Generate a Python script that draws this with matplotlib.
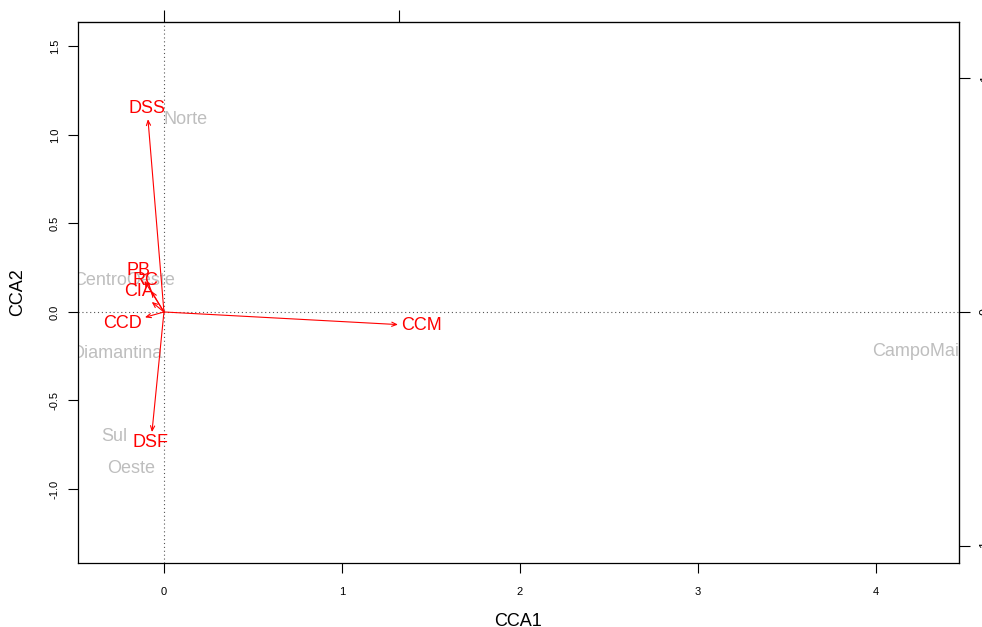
import numpy as np
import matplotlib
matplotlib.use("Agg")
import matplotlib.pyplot as plt

# site scores (CCA1, CCA2)
sites = ["Norte", "CentroOeste", "Diamantina", "Sul", "Oeste", "CampoMaior"]
site_x = [0.124, -0.225, -0.262, -0.280, -0.185, 4.27]
site_y = [1.09, 0.175, -0.237, -0.705, -0.885, -0.226]

# biplot scores of environmental variables
env = ["DSS", "DSF", "CCM", "CCD", "CIA", "RC", "PB"]
env_x = [-0.068, -0.051, 0.996, -0.081, -0.052, -0.054, -0.083]
env_y = [0.825, -0.514, -0.054, -0.023, 0.043, 0.090, 0.133]
mul = 1.32  # arrow scaling onto the site axes

plt.rcParams["font.family"] = ["Liberation Sans", "DejaVu Sans"]

fig = plt.figure(figsize=(9.82, 6.27), dpi=100)
ax = fig.add_axes([0.0794, 0.1021, 0.8971, 0.8628])
ax.set_xlim(-0.483, 4.466)
ax.set_ylim(-1.418, 1.638)

ax.axhline(0, color="#555555", lw=0.8, ls=(0, (1, 2.5)), zorder=1)
ax.axvline(0, color="#555555", lw=0.8, ls=(0, (1, 2.5)), zorder=1)

for s, x, y in zip(sites, site_x, site_y):
    ax.text(x, y, s, color="#BEBEBE", fontsize=13, ha="center", va="center",
            clip_on=True, zorder=2)

fig.canvas.draw()
for lab, bx, by in zip(env, env_x, env_y):
    tx, ty = bx * mul, by * mul
    ax.annotate("", xy=(tx, ty), xytext=(0, 0),
                arrowprops=dict(arrowstyle="->,head_length=0.35,head_width=0.15",
                                color="red", lw=0.8, shrinkA=0, shrinkB=0),
                zorder=3)
    # place label beyond arrow tip, like vegan's ordiArrowTextXY
    t = ax.text(0, 0, lab, fontsize=13)
    bb = t.get_window_extent()
    t.remove()
    w, h = bb.width, bb.height * 0.8
    p0 = ax.transData.transform((0, 0))
    p1 = ax.transData.transform((tx, ty))
    dx, dy = p1 - p0
    offx = np.sign(dx) * (w / 2 + h / 4)
    offy = 0.75 * h * np.sign(dy)
    b = dy / dx
    move = offy / b
    if np.isfinite(move) and abs(move) <= abs(offx):
        offx = move
    else:
        offy = b * offx
    lx, ly = ax.transData.inverted().transform((p1[0] + offx, p1[1] + offy))
    ax.text(lx, ly, lab, color="red", fontsize=13, ha="center", va="center",
            zorder=4)

ax.set_xticks([0, 1, 2, 3, 4])
ax.set_yticks([-1.0, -0.5, 0.0, 0.5, 1.0, 1.5])
ax.set_yticklabels(["-1.0", "-0.5", "0.0", "0.5", "1.0", "1.5"], rotation=90,
                   va="center")
ax.tick_params(axis="x", length=7, width=0.8, pad=10, labelsize=8)
ax.tick_params(axis="y", length=7, width=0.8, pad=6, labelsize=8)
ax.set_xlabel("CCA1", fontsize=13, labelpad=12)
ax.set_ylabel("CCA2", fontsize=13, labelpad=17)
for sp in ax.spines.values():
    sp.set_linewidth(0.9)

# extra axes for the arrow scale
top = ax.secondary_xaxis("top", functions=(lambda v: v / mul, lambda v: v * mul))
top.set_xticks([0, 1])
top.set_xticklabels(["", ""])
top.tick_params(length=9, width=0.8)
right = ax.secondary_yaxis("right", functions=(lambda v: v / mul, lambda v: v * mul))
right.set_yticks([-1, 0, 1])
right.set_yticklabels(["-1", "0", "1"], rotation=90, va="center")
right.tick_params(length=8, width=0.8, pad=7, labelsize=9)

fig.savefig("out.png", dpi=100)
